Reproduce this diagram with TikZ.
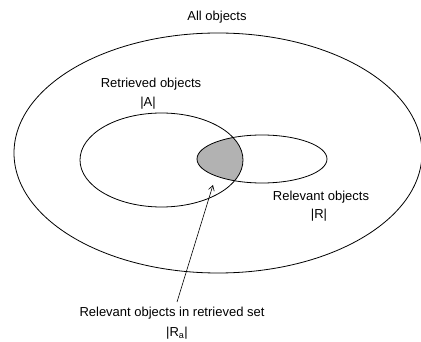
\documentclass[tikz,border=0pt]{standalone}
\usepackage{fontspec}
\setmainfont{Liberation Sans}
\usetikzlibrary{arrows.meta}
\begin{document}
\begin{tikzpicture}[x=1pt,y=-1pt,
  lbl/.style={font=\fontsize{13}{14}\selectfont, inner sep=0pt},
  ell/.style={draw=black, line width=0.8pt}]
\useasboundingbox (0,0) rectangle (421,342);
% intersection shading
\begin{scope}
  \clip (161.5,160) ellipse [x radius=81.5, y radius=47];
  \fill[gray!60] (262,159) ellipse [x radius=65, y radius=24];
\end{scope}
\draw[ell] (218,153) ellipse [x radius=204, y radius=120];
\draw[ell] (161.5,160) ellipse [x radius=81.5, y radius=47];
\draw[ell] (262,159) ellipse [x radius=65, y radius=24];
\node[lbl] (all) at (217,17) {All objects};
\node[lbl] (ret) at (151,84) {Retrieved objects};
\node[lbl] (A) at (148,103) {|A|};
\node[lbl] (rel) at (321,197) {Relevant objects};
\node[lbl] (R) at (319,215) {|R|};
\node[lbl] (ris) at (172,313) {Relevant objects in retrieved set};
\node[lbl] (Ra) at (177,333) {|R\textsubscript{a}|};
\coordinate (tail) at (177,302);
\coordinate (tip) at (213,185);
\draw[line width=0.6pt, -{Straight Barb[length=5pt,width=6pt]}] (tail) -- (tip);
\end{tikzpicture}
\end{document}
